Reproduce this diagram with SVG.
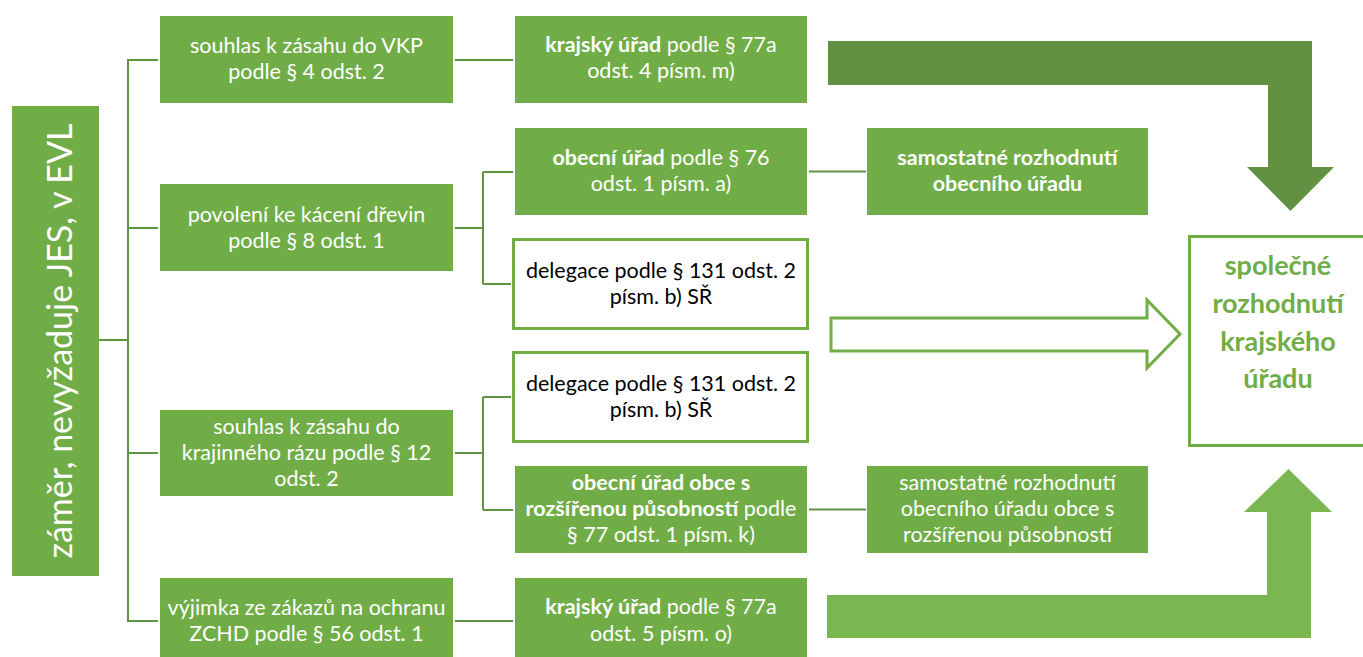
<svg xmlns="http://www.w3.org/2000/svg" width="1363" height="657" viewBox="0 0 1363 657">
<style>
.box{fill:#70ad47}
.obox{fill:#fff;stroke:#70ad47;stroke-width:3}
.t{font-family:Lato,"Open Sans","Liberation Sans",sans-serif;font-size:21.5px;text-anchor:middle}
.w{fill:#fff}
.k{fill:#000}
.b{font-weight:bold}
.ln{stroke:#5f9441;stroke-width:2;fill:none}
</style>
<rect width="1363" height="657" fill="#fff"/>
<g id="connectors">
<path class="ln" d="M99,340H128M128,59V622M128,60H158M128,228H158M128,453H158M128,621H158"/>
<path class="ln" d="M455,60H513M455,228H483M483,172V284M483,172H513M483,284H511"/>
<path class="ln" d="M455,453H483M483,397V510M483,397H511M483,510H513M455,621H513"/>
<path class="ln" d="M809,171.5H866M809,509.5H866"/>
<path d="M828,41H1312V167H1334L1290.5,211L1247,167H1268V85H828Z" fill="#629141"/>
<path d="M827,595H1267V512H1244L1288.5,469L1332,512H1311V638H827Z" fill="#7ab751"/>
<path d="M831,318H1147V300L1180,334L1147,368V351H831Z" fill="#fff" stroke="#70ad47" stroke-width="3"/>
</g>
<g id="root">
<rect class="box" x="12" y="106" width="87" height="470"/>
<text class="t w" style="font-size:34px" transform="translate(72,341) rotate(-90)">záměr, nevyžaduje JES, v EVL</text>
</g>
<g id="n1">
<rect class="box" x="160" y="16" width="293" height="87"/>
<text class="t w" x="306.5" y="53">souhlas k zásahu do VKP<tspan x="306.5" y="79">podle § 4 odst. 2</tspan></text>
</g>
<g id="n2">
<rect class="box" x="160" y="184" width="293" height="87"/>
<text class="t w" x="306.5" y="221.5">povolení ke kácení dřevin<tspan x="306.5" y="247.5">podle § 8 odst. 1</tspan></text>
</g>
<g id="n3">
<rect class="box" x="160" y="410" width="293" height="86"/>
<text class="t w" x="306.5" y="434">souhlas k zásahu do<tspan x="306.5" y="460">krajinného rázu podle § 12</tspan><tspan x="306.5" y="486">odst. 2</tspan></text>
</g>
<g id="n4">
<rect class="box" x="160" y="578" width="293" height="87"/>
<text class="t w" x="306.5" y="615">výjimka ze zákazů na ochranu<tspan x="306.5" y="641">ZCHD podle § 56 odst. 1</tspan></text>
</g>
<g id="k1">
<rect class="box" x="515" y="16" width="292" height="87"/>
<text class="t w" x="661" y="52"><tspan class="b">krajský úřad</tspan> podle § 77a<tspan x="661" y="78">odst. 4 písm. m)</tspan></text>
</g>
<g id="o1">
<rect class="box" x="515" y="128" width="292" height="87"/>
<text class="t w" x="661" y="164.5"><tspan class="b">obecní úřad</tspan> podle § 76<tspan x="661" y="190.5">odst. 1 písm. a)</tspan></text>
</g>
<g id="d1">
<rect class="obox" x="513.5" y="239.5" width="294" height="89"/>
<text class="t k" x="661" y="277.5">delegace podle § 131 odst. 2<tspan x="661" y="303.5">písm. b) SŘ</tspan></text>
</g>
<g id="d2">
<rect class="obox" x="513.5" y="352.5" width="294" height="89"/>
<text class="t k" x="661" y="390.5">delegace podle § 131 odst. 2<tspan x="661" y="416.5">písm. b) SŘ</tspan></text>
</g>
<g id="o2">
<rect class="box" x="515" y="466" width="292" height="87"/>
<text class="t w" x="661" y="490"><tspan class="b">obecní úřad obce s</tspan><tspan x="661" y="516"><tspan class="b">rozšířenou působností</tspan> podle</tspan><tspan x="661" y="542">§ 77 odst. 1 písm. k)</tspan></text>
</g>
<g id="k2">
<rect class="box" x="515" y="578" width="292" height="87"/>
<text class="t w" x="661" y="614"><tspan class="b">krajský úřad</tspan> podle § 77a<tspan x="661" y="641">odst. 5 písm. o)</tspan></text>
</g>
<g id="s1">
<rect class="box" x="867" y="128" width="281" height="87"/>
<text class="t w b" x="1007.5" y="165">samostatné rozhodnutí<tspan x="1007.5" y="191">obecního úřadu</tspan></text>
</g>
<g id="s2">
<rect class="box" x="867" y="466" width="281" height="87"/>
<text class="t w" x="1007.5" y="490">samostatné rozhodnutí<tspan x="1007.5" y="516">obecního úřadu obce s</tspan><tspan x="1007.5" y="542">rozšířenou působností</tspan></text>
</g>
<g id="final">
<rect class="obox" x="1189.5" y="236.5" width="190" height="209"/>
<text class="t b" fill="#70ad47" style="font-size:27px" x="1278" y="275">společné<tspan x="1278" y="313">rozhodnutí</tspan><tspan x="1278" y="351">krajského</tspan><tspan x="1278" y="388">úřadu</tspan></text>
</g>
</svg>
